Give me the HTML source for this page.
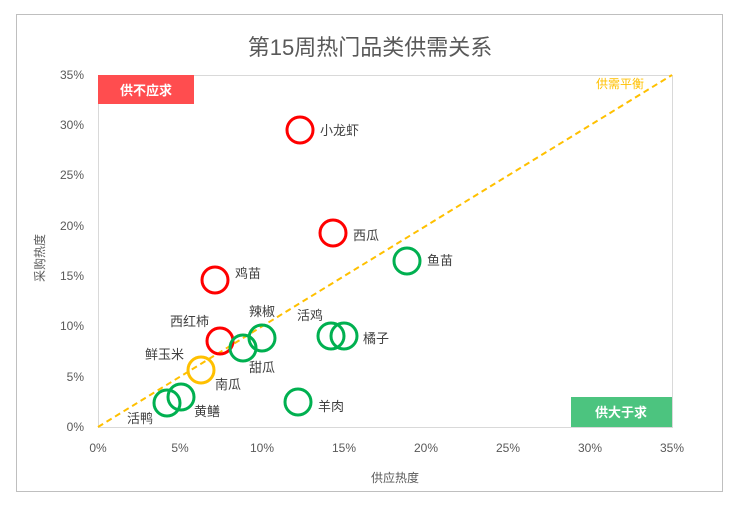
<!DOCTYPE html><html><head><meta charset="utf-8"><style>body{margin:0;background:#fff}svg text{font-family:"Liberation Sans","Noto Sans CJK SC",sans-serif}</style></head><body>
<svg width="740" height="505" xmlns="http://www.w3.org/2000/svg">
<rect x="16.5" y="14.5" width="706" height="477" fill="#fff" stroke="#bfbfbf"/>
<text x="370" y="55" text-anchor="middle" font-size="22" fill="#595959">第15周热门品类供需关系</text>
<rect x="98.5" y="75.5" width="574" height="352" fill="none" stroke="#d9d9d9"/>
<g font-size="12" fill="#595959" text-anchor="end">
<text x="84" y="431">0%</text><text x="84" y="381">5%</text><text x="84" y="330">10%</text><text x="84" y="280">15%</text><text x="84" y="230">20%</text><text x="84" y="179">25%</text><text x="84" y="129">30%</text><text x="84" y="79">35%</text>
</g>
<g font-size="12" fill="#595959" text-anchor="middle">
<text x="98" y="452">0%</text><text x="180" y="452">5%</text><text x="262" y="452">10%</text><text x="344" y="452">15%</text><text x="426" y="452">20%</text><text x="508" y="452">25%</text><text x="590" y="452">30%</text><text x="672" y="452">35%</text>
<text x="395" y="482">供应热度</text>
</g>
<text transform="translate(44,258) rotate(-90)" font-size="12" fill="#595959" text-anchor="middle">采购热度</text>
<line x1="98" y1="427" x2="672" y2="75" stroke="#FFC000" stroke-width="2" stroke-dasharray="6,4"/>
<text x="596" y="88" font-size="12" fill="#FFC000">供需平衡</text>
<rect x="98" y="75" width="96" height="29" fill="#FF4D4F"/>
<text x="146" y="95" font-size="13" font-weight="bold" fill="#fff" text-anchor="middle">供不应求</text>
<rect x="571" y="397" width="101" height="30" fill="#4CC47F"/>
<text x="621" y="417" font-size="13" font-weight="bold" fill="#fff" text-anchor="middle">供大于求</text>
<g fill="none" stroke-width="3">
<circle cx="300" cy="130" r="13" stroke="#FF0000"/>
<circle cx="333" cy="233" r="13" stroke="#FF0000"/>
<circle cx="215" cy="280" r="13" stroke="#FF0000"/>
<circle cx="220" cy="341" r="13" stroke="#FF0000"/>
<circle cx="201" cy="370" r="13" stroke="#FFC000"/>
<circle cx="243" cy="348" r="13" stroke="#00B050"/>
<circle cx="262" cy="338" r="13" stroke="#00B050"/>
<circle cx="331" cy="336" r="13" stroke="#00B050"/>
<circle cx="344" cy="336" r="13" stroke="#00B050"/>
<circle cx="407" cy="261" r="13" stroke="#00B050"/>
<circle cx="298" cy="402" r="13" stroke="#00B050"/>
<circle cx="167" cy="403" r="13" stroke="#00B050"/>
<circle cx="181" cy="397" r="13" stroke="#00B050"/>
</g>
<g font-size="13" fill="#404040">
<text x="320" y="135">小龙虾</text><text x="353" y="240">西瓜</text><text x="235" y="278">鸡苗</text>
<text x="170" y="326">西红柿</text><text x="249" y="316">辣椒</text><text x="297" y="320">活鸡</text>
<text x="363" y="343">橘子</text><text x="249" y="372">甜瓜</text><text x="145" y="359">鲜玉米</text>
<text x="215" y="389">南瓜</text><text x="318" y="411">羊肉</text><text x="127" y="423">活鸭</text>
<text x="194" y="416">黄鳝</text><text x="427" y="265">鱼苗</text>
</g>
</svg></body></html>
